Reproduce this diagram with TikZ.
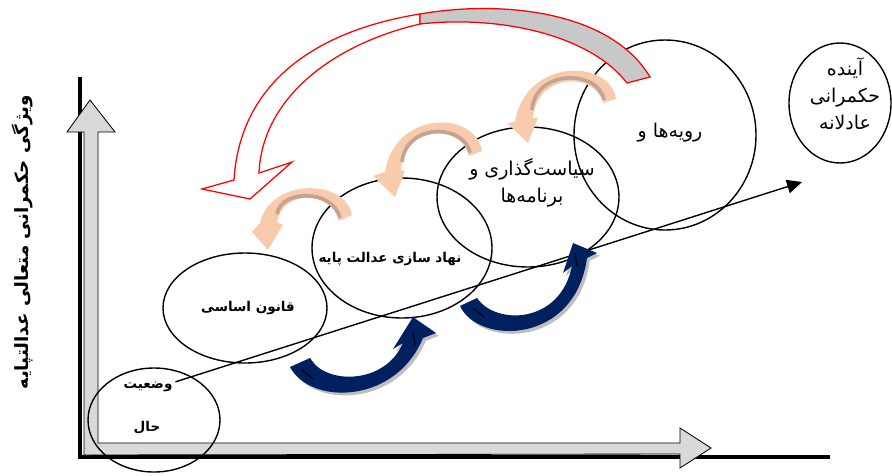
\documentclass[tikz,border=0pt]{standalone}
\usepackage{fontspec}
\newfontfamily\arabicfont[Script=Arabic]{DejaVu Sans}
\TeXXeTstate=1
\definecolor{navyarr}{HTML}{002060}
\definecolor{peach}{HTML}{F8CBAD}
\definecolor{taupe}{HTML}{C4A392}
\definecolor{axisgray}{HTML}{D9D9D9}
\definecolor{tailgray}{HTML}{C8C8C8}

\begin{document}
\begin{tikzpicture}[x=0.25mm, y=0.25mm]
\tikzstyle{every node}+=[inner sep=0pt]
\tikzstyle{ring}=[black, line width=1pt]
\tikzstyle{boldlbl}=[font=\arabicfont\bfseries\fontsize{9.6}{11}\selectfont]
\tikzstyle{axislbl}=[font=\arabicfont\bfseries\fontsize{13}{15}\selectfont]
\tikzstyle{plainlbl}=[font=\arabicfont\fontsize{13.5}{19.2}\selectfont, align=center]
\tikzstyle{taupestrip}=[draw=taupe, line width=2.6pt]
\tikzstyle{navyband}=[fill=navyarr, preaction={fill=black!25, transform canvas={xshift=2pt, yshift=-2pt}}]
\tikzstyle{redband}=[draw=red, line width=0.9pt]
\useasboundingbox (0,0) rectangle (892,-475);
% axes
\draw [line width=3.5pt] (80,-77) -- (80,-457);
\draw [line width=2.2pt] (78,-457) -- (830,-457);
\filldraw [fill=axisgray, line width=0.6pt] (84,-455) -- (84,-132) -- (67,-132) -- (90,-100) -- (115,-132) -- (98,-132) -- (98,-443) -- (680,-443) -- (680,-428) -- (711,-448) -- (680,-468) -- (680,-454) -- cycle;
\node [axislbl, rotate=90] (yaxis) at (22,-242) {\beginR ویژگی حکمرانی متعالی عدالتپایه\endR};
% stages
\draw [ring] (154,-420) ellipse (66 and 52);
\node [boldlbl] (wazIyat) at (148,-387) {\beginR وضعیت\endR};
\node [boldlbl] (hal) at (147,-428) {\beginR حال\endR};
\draw [ring] (245,-308) ellipse (82 and 55);
\node [boldlbl] (qanun) at (248,-308) {\beginR قانون اساسی\endR};
\draw [ring] (402,-248) ellipse (90 and 70);
\node [boldlbl] (nahad) at (390,-259) {\beginR نهاد سازی عدالت پایه\endR};
\draw [ring] (528,-197) ellipse (91 and 70);
\node [plainlbl] (siasat) at (532,-183) {\beginR سیاست^^^^200cگذاری و\endR\\\beginR برنامه^^^^200cها\endR};
\draw [ring] (665,-135) ellipse (91 and 95);
\node [plainlbl] (raviye) at (670,-133) {\beginR رویه^^^^200cها و\endR};
\draw [ring] (840,-103) ellipse (51 and 60);
\node [plainlbl] (ayande) at (845,-94) {\beginR آینده\endR\\\beginR حکمرانی\endR\\\beginR عادلانه\endR};
% trend line
\coordinate (goal) at (802,-182);
\draw [line width=1pt, shorten >=5pt] ([xshift=2pt]wazIyat.north east) -- (goal);
\fill [black] (785.6,-179.8) -- (goal) -- (789.8,-193.2) -- cycle;
% peach steps back
\fill [peach] (352,-215) .. controls (345,-178) and (270,-178) .. (260,-223) -- (252,-232) -- (268,-250) -- (283,-225) -- (277,-222) .. controls (282,-190) and (332,-190) .. (339,-221) -- cycle;
\draw [taupestrip] (340,-218) .. controls (333,-189) and (281,-189) .. (277,-214);
\fill [peach] (482,-151) .. controls (475,-110) and (395,-110) .. (385,-172) -- (373,-176) -- (395,-197) -- (405,-171) -- (401,-170) .. controls (405,-124) and (462,-124) .. (469,-156) -- cycle;
\draw [taupestrip] (470,-153) .. controls (464,-123) and (406,-123) .. (402,-162);
\fill [peach] (616,-99) .. controls (610,-58) and (525,-58) .. (515,-122) -- (507,-123) -- (528,-143) -- (538,-118) -- (533,-118) .. controls (537,-72) and (596,-72) .. (603,-103) -- cycle;
\draw [taupestrip] (604,-100) .. controls (598,-69) and (535,-69) .. (532,-110);
% navy steps forward
\fill [navyband] (290,-367) .. controls (310,-405) and (395,-405) .. (423,-338) -- (436,-333) -- (413,-317) -- (393,-349) -- (403,-343) .. controls (385,-385) and (325,-385) .. (310,-358) -- cycle;
\fill [navyband] (460,-306) .. controls (478,-345) and (575,-345) .. (587,-258) -- (597,-253) -- (573,-243) -- (563,-273) -- (572,-266) .. controls (560,-325) and (495,-325) .. (477,-298) -- cycle;
\draw [line width=0.8pt] (302,-370) -- (313,-379);
\draw [line width=0.8pt] (413,-332) -- (415,-345);
\draw [line width=0.8pt] (473,-308) -- (484,-317);
\draw [line width=0.8pt] (575,-253) -- (577,-266);
% big loop back
\filldraw [redband, fill=white] (420,-14) .. controls (320,-30) and (240,-80) .. (234,-180) -- (202,-189) -- (250,-199) -- (292,-162) -- (259,-173) .. controls (262,-100) and (330,-45) .. (420,-24) -- cycle;
\filldraw [redband, fill=tailgray] (420,-14) .. controls (500,0) and (610,-10) .. (650,-77) -- (627,-83) .. controls (590,-35) and (500,-15) .. (420,-24) -- cycle;
\end{tikzpicture}
\end{document}
